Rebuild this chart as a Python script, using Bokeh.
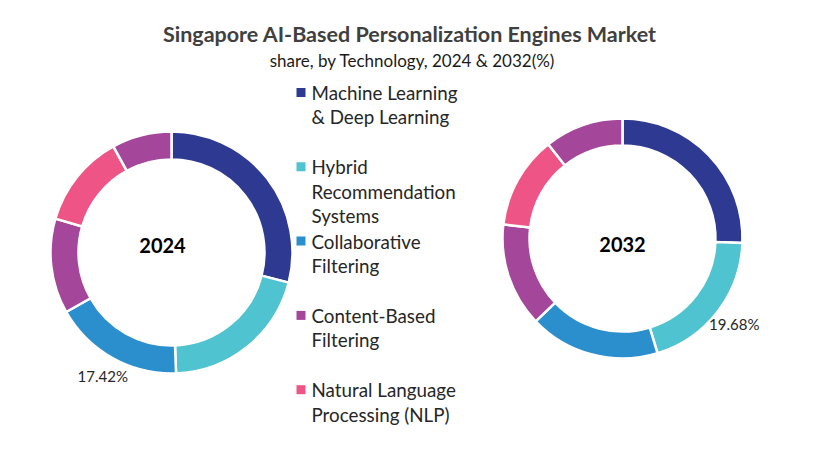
import math
from bokeh.plotting import figure
from bokeh.models import Range1d, ColumnDataSource
from bokeh.core.properties import value
from bokeh.embed import file_html
from bokeh.resources import INLINE

# ---- data ----
categories = ["Machine Learning\n& Deep Learning",
              "Hybrid\nRecommendation\nSystems",
              "Collaborative\nFiltering",
              "Content-Based\nFiltering",
              "Natural Language\nProcessing (NLP)",
              "Others"]
colors = ["#2E3A92", "#4FC3CF", "#2B8FCE", "#A4479B", "#EE5586", "#A4479B"]
share_2024 = [29.0, 20.4, 17.42, 12.7, 12.5, 7.98]
share_2032 = [25.6, 19.68, 17.6, 14.0, 12.5, 10.62]
years = ["2024", "2032"]
labeled_index = {"2024": 2, "2032": 1}   # which slice shows its value
legend_count = 5

title = "Singapore AI-Based Personalization  Engines Market"
subtitle = "share, by Technology, 2024 & 2032(%)"

W, H = 800, 435
FONT = "Lato"

def Y(yi):  # image y (downwards) -> data y (upwards)
    return 451 - yi

p = figure(width=W, height=H, output_backend="svg", toolbar_location=None,
           x_range=Range1d(0, 800), y_range=Range1d(16, 451),
           min_border=0, background_fill_color="white", border_fill_color="white")
p.axis.visible = False
p.grid.visible = False
p.outline_line_color = None

donuts = [
    dict(year="2024", vals=share_2024, cx=171, cy=252, ro=121, ri=93, lx=162, ly=245),
    dict(year="2032", vals=share_2032, cx=622, cy=238, ro=120, ri=93, lx=622, ly=244),
]

for d in donuts:
    vals = d["vals"]
    tot = sum(vals)
    starts, ends = [], []
    c = 0.0
    for v in vals:
        starts.append(math.pi / 2 - 2 * math.pi * c / tot)
        c += v
        ends.append(math.pi / 2 - 2 * math.pi * c / tot)
    src = ColumnDataSource(dict(start=starts, end=ends, color=colors,
                                x=[d["cx"]] * len(vals), y=[Y(d["cy"])] * len(vals)))
    p.annular_wedge(x="x", y="y", inner_radius=d["ri"], outer_radius=d["ro"],
                    start_angle="start", end_angle="end", direction="clock",
                    fill_color="color", line_color="white", line_width=2.5, source=src)
    # centre year
    p.text(x=[d["lx"]], y=[Y(d["ly"])], text=[d["year"]], text_font=value(FONT),
           text_font_style="bold", text_font_size="20px", text_color="#000000",
           text_align="center", text_baseline="middle")
    # value label
    i = labeled_index[d["year"]]
    mid = (starts[i] + ends[i]) / 2
    r = 141
    p.text(x=[d["cx"] + r * math.cos(mid)], y=[Y(d["cy"]) + r * math.sin(mid)],
           text=[f"{vals[i]:.2f}%"], text_font=value(FONT), text_font_size="15px",
           text_color="#262626", text_align="center", text_baseline="middle")

# title
p.text(x=[412], y=[Y(33)], text=[title], text_font=value(FONT), text_font_style="bold",
       text_font_size="21.5px", text_color="#404040", text_align="center", text_baseline="middle")
p.text(x=[412], y=[Y(60)], text=[subtitle], text_font=value(FONT),
       text_font_size="17px", text_color="#1a1a1a", text_align="center", text_baseline="middle")

# legend
lx_sq, lx_txt, ly0, lstep, lline = 300.5, 311, 92, 74.3, 24.3
sq_x, sq_y, sq_c = [], [], []
tx, ty, tt = [], [], []
for k in range(legend_count):
    yb = ly0 + k * lstep
    sq_x.append(lx_sq); sq_y.append(Y(yb)); sq_c.append(colors[k])
    for j, line in enumerate(categories[k].split("\n")):
        tx.append(lx_txt); ty.append(Y(yb + j * lline)); tt.append(line)
p.scatter(x=sq_x, y=sq_y, marker="square", size=9, fill_color=sq_c, line_color=None)
p.text(x=tx, y=ty, text=tt, text_font=value(FONT), text_font_size="18.8px",
       text_color="#262626", text_align="left", text_baseline="middle")

open("out.html", "w").write(file_html(p, INLINE))
